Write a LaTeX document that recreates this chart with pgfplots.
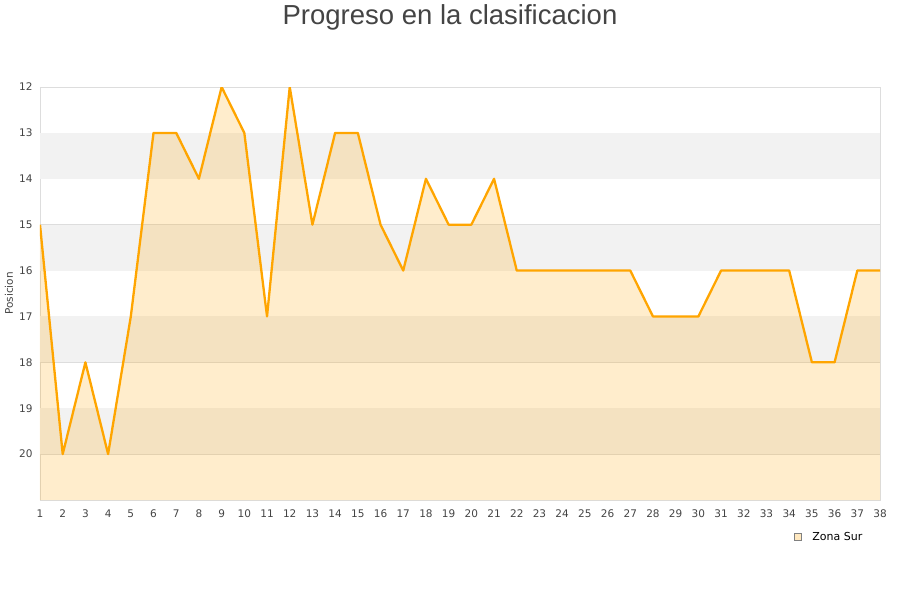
\documentclass[border=0pt]{standalone}
\usepackage{fontspec}
\setmainfont{DejaVu Sans}
\newfontfamily\titlefont{Liberation Sans}
\usepackage{pgfplots}
\pgfplotsset{compat=1.18}
\definecolor{lineor}{HTML}{FFA500}
\definecolor{gridc}{HTML}{DDDDDD}
\definecolor{band}{HTML}{F2F2F2}
\definecolor{txt}{HTML}{444444}

\begin{document}
\begin{tikzpicture}[x=1pt,y=1pt]
\path[use as bounding box] (0,0) rectangle (900,600);
\node[font=\titlefont\fontsize{27.5}{31}\selectfont, text=txt] at (450,583) {Progreso en la clasificacion};
\begin{axis}[
  at={(40pt,100pt)}, anchor=south west,
  scale only axis, width=840pt, height=413pt,
  xmin=1, xmax=38, ymin=12, ymax=21, y dir=reverse,
  xtick={1,...,38}, ytick={12,...,20},
  ymajorgrids, grid style={gridc, line width=0.8pt},
  axis line style={gridc, line width=0.8pt}, tick style={draw=none},
  ticklabel style={font=\fontsize{10.5}{12}\selectfont, text=txt},
  xticklabel style={yshift=-6pt},
  yticklabel style={xshift=-4pt},
  /pgf/number format/assume math mode=true,
  ylabel={Posicion},
  ylabel style={font=\fontsize{10.5}{12}\selectfont, text=txt, at={(axis description cs:-0.037,0.5)}, anchor=center},
  legend style={at={(0.8936,-0.09)}, anchor=west, draw=none, fill=none,
    font=\fontsize{11}{13}\selectfont, legend cell align=left},
]
\fill[band] (axis cs:1,13) rectangle (axis cs:38,14);
\fill[band] (axis cs:1,15) rectangle (axis cs:38,16);
\fill[band] (axis cs:1,17) rectangle (axis cs:38,18);
\fill[band] (axis cs:1,19) rectangle (axis cs:38,20);
\addplot[draw=none, fill=lineor, fill opacity=0.2, forget plot] coordinates {
  (1,21) (1,15) (2,20) (3,18) (4,20) (5,17) (6,13) (7,13) (8,14) (9,12) (10,13)
  (11,17) (12,12) (13,15) (14,13) (15,13) (16,15) (17,16) (18,14) (19,15) (20,15)
  (21,14) (22,16) (23,16) (24,16) (25,16) (26,16) (27,16) (28,17) (29,17) (30,17)
  (31,16) (32,16) (33,16) (34,16) (35,18) (36,18) (37,16) (38,16) (38,21)
} -- cycle;
\addplot[lineor, line width=2.3pt, line join=round, forget plot] coordinates {
  (1,15) (2,20) (3,18) (4,20) (5,17) (6,13) (7,13) (8,14) (9,12) (10,13)
  (11,17) (12,12) (13,15) (14,13) (15,13) (16,15) (17,16) (18,14) (19,15) (20,15)
  (21,14) (22,16) (23,16) (24,16) (25,16) (26,16) (27,16) (28,17) (29,17) (30,17)
  (31,16) (32,16) (33,16) (34,16) (35,18) (36,18) (37,16) (38,16)
};
\addlegendimage{legend image code/.code={\draw[fill=lineor!25, draw=gray, line width=0.6pt] (0pt,-3.5pt) rectangle (7pt,3.5pt);}}
\addlegendentry{\hspace*{9pt}Zona Sur}
\end{axis}
\end{tikzpicture}
\end{document}
